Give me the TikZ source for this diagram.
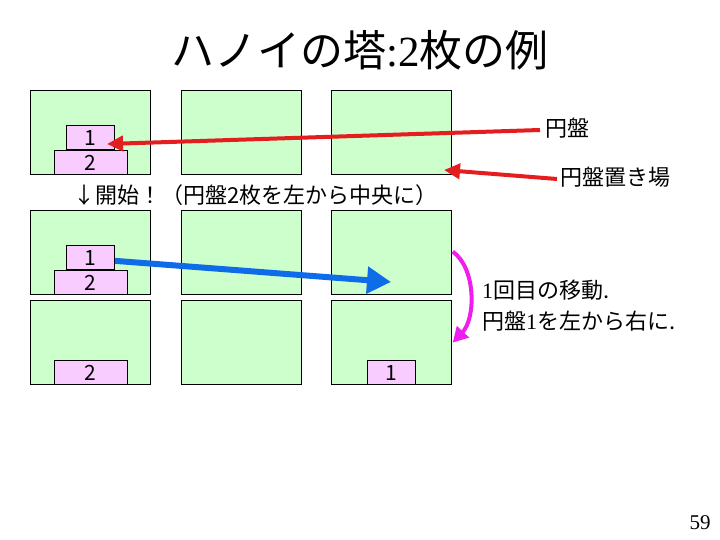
\documentclass[tikz,border=0pt]{standalone}
\usepackage{fontspec}
\setmainfont{Noto Sans CJK JP}
\newfontfamily\tms{Liberation Serif}
\usetikzlibrary{arrows.meta}
\definecolor{boxgreen}{HTML}{CCFFCC}
\definecolor{diskpink}{HTML}{F9CCFF}
\definecolor{arrred}{HTML}{E41E1E}
\definecolor{arrblue}{HTML}{0F6CE8}
\definecolor{arrmag}{HTML}{EE1EEE}
\tikzset{
  peg/.style={draw=black, line width=1.2pt, fill=boxgreen, minimum width=120pt, minimum height=84pt, anchor=north west, inner sep=0pt},
  diskA/.style={draw=black, line width=0.9pt, fill=diskpink, minimum width=48pt, minimum height=24pt, inner sep=0pt, font=\fontsize{21}{21}\selectfont, anchor=south},
  diskB/.style={diskA, minimum width=73pt},
  lbl/.style={inner sep=0pt, anchor=west, font=\fontsize{22}{22}\selectfont},
  redarrow/.style={draw=arrred, line width=4pt, -{Triangle[length=16pt,width=15pt]}},
  bluearrow/.style={draw=arrblue, line width=6pt, -{Triangle[length=24pt,width=26pt]}},
  magarrow/.style={draw=arrmag, line width=4pt, -{Triangle[length=15pt,width=16pt]}}
}
\begin{document}
\begin{tikzpicture}[x=1pt, y=-1pt]
\useasboundingbox (0,0) rectangle (720,540);
% title
\node[inner sep=0pt, font=\fontsize{43}{43}\selectfont] (title) at (360,50) {ハノイの塔{\tms :2}枚の例};
% pegs
\node[peg] (b11) at (30,90) {};
\node[peg] (b12) at (180.5,90) {};
\node[peg] (b13) at (330.5,90) {};
\node[peg] (b21) at (30,210) {};
\node[peg] (b22) at (180.5,210) {};
\node[peg] (b23) at (330.5,210) {};
\node[peg] (b31) at (30,300) {};
\node[peg] (b32) at (180.5,300) {};
\node[peg] (b33) at (330.5,300) {};
% disks
\node[diskB] (d12) at (b11.south) {2};
\node[diskA] (d11) at (d12.north) {1};
\node[diskB] (d22) at (b21.south) {2};
\node[diskA] (d21) at (d22.north) {1};
\node[diskB] (d32) at (b31.south) {2};
\node[diskA] (d31) at (b33.south) {1};
% texts
\node[lbl] (start) at (73,195) {↓開始！（円盤2枚を左から中央に）};
\node[lbl] (lblDisk) at (545,128) {円盤};
\node[lbl] (lblPlace) at (560,177) {円盤置き場};
\node[lbl] (move1) at (482,290) {{\tms 1}回目の移動.};
\node[lbl] (move2) at (482,321) {円盤{\tms 1}を左から右に.};
\node[inner sep=0pt, font=\tms\fontsize{21}{21}\selectfont] (page) at (700,523) {59};
% arrows
\coordinate (tipA) at (107,144);
\coordinate (tipB) at (444,170);
\coordinate (tipC) at (391,282);
\draw[redarrow] ([xshift=-5pt,yshift=-2pt]lblDisk.west) -- (tipA);
\draw[redarrow] ([xshift=-3pt,yshift=-2pt]lblPlace.west) -- (tipB);
\draw[bluearrow] ([yshift=-3pt]d21.east) -- (tipC);
\draw[magarrow] ([xshift=1pt,yshift=1pt]b23.east) .. controls (476,268) and (476,318) .. ([xshift=1pt]b33.east);
\end{tikzpicture}
\end{document}
